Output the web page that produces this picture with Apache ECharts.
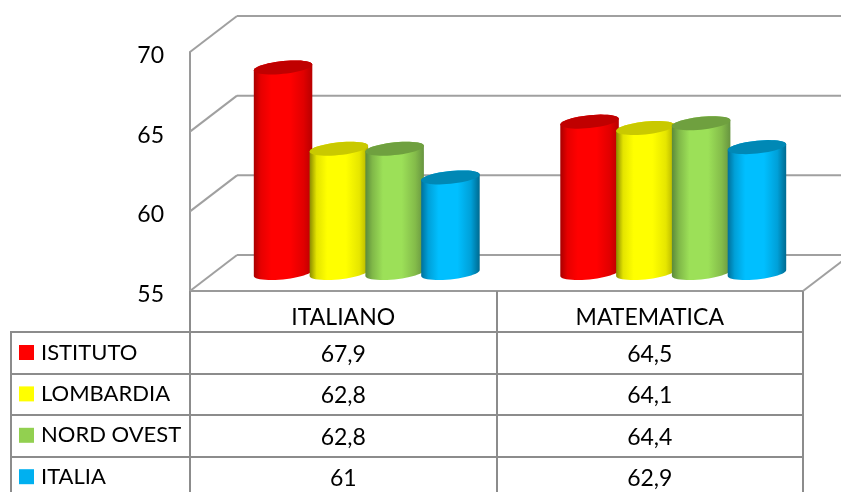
<!DOCTYPE html>
<html><head><meta charset="utf-8">
<style>html,body{margin:0;padding:0;background:#fff}#c{width:841px;height:492px}</style>
<script src="https://cdn.jsdelivr.net/npm/echarts@6/dist/echarts.min.js"></script>
</head><body><div id="c"></div>
<script>
const categories = ['ITALIANO', 'MATEMATICA'];
const yTicks = [55, 60, 65, 70];
const istituto = [67.9, 64.5];
const lombardia = [62.8, 64.1];
const nordOvest = [62.8, 64.4];
const italia = [61, 62.9];
const seriesNames = ['ISTITUTO', 'LOMBARDIA', 'NORD OVEST', 'ITALIA'];
const seriesValues = [istituto, lombardia, nordOvest, italia];

const FONT = 'Lato';
const palette = [
  {key:'#ff0000', cap:'#c00000', side:['#a80000','#e60000','#ff0000','#ff0000','#e00000','#b80000']},
  {key:'#ffff00', cap:'#c9c900', side:['#8a8a00','#e4e400','#ffff00','#ffff00','#e6e600','#b0b000']},
  {key:'#92d050', cap:'#6fa03f', side:['#5c8a3a','#80b848','#9ce058','#9ce058','#84bc4a','#679440']},
  {key:'#00b0f0', cap:'#0088b5', side:['#00709a','#00a0d8','#00bfff','#00bfff','#00a0d8','#006a90']}
];
const D = {x: 47, y: 36};        // depth of the 3D box
const BAR = {w: 58.5, step: 55.8, tilt: 2.9, b: 6.4};
const rowY = [332, 374, 415, 457];
const rowText = [354.5, 396, 437.5, 479];

const chart = echarts.init(document.getElementById('c'), null, {renderer:'canvas'});

function arc(cx, cy, from, to, n) {
  const a = BAR.w / 2, pts = [];
  for (let i = 0; i <= n; i++) {
    const t = from + (to - from) * i / n;
    pts.push([cx + a * Math.cos(t), cy - BAR.tilt * Math.cos(t) + BAR.b * Math.sin(t)]);
  }
  return pts;
}
function barRender(si) {
  return function (params, api) {
    const cat = api.value(0), val = api.value(1);
    const top = api.coord([cat, val]), base = api.coord([cat, 55]);
    const cx = top[0] + D.x / 2 + (si - 1.5) * BAR.step;
    const ty = top[1] - D.y / 2, by = base[1] - D.y / 2;
    const body = arc(cx, ty, Math.PI, 2 * Math.PI, 24).concat(arc(cx, by, 0, Math.PI, 24));
    const s = palette[si].side;
    const grad = new echarts.graphic.LinearGradient(0, 0, 1, 0, [
      {offset:0,color:s[0]},{offset:0.12,color:s[1]},{offset:0.3,color:s[2]},
      {offset:0.62,color:s[3]},{offset:0.85,color:s[4]},{offset:1,color:s[5]}]);
    return {type:'group', children:[
      {type:'polygon', shape:{points:body}, style:{fill:grad}},
      {type:'polygon', shape:{points:arc(cx, ty, 0, 2 * Math.PI, 48)}, style:{fill:palette[si].cap}},
      {type:'text', style:{text:String(val).replace('.', ','), x:top[0], y:rowText[si],
        align:'center', verticalAlign:'middle', fontFamily:FONT, fontSize:23, fill:'#000'}}
    ]};
  };
}
function wallRender(params, api) {
  const v = api.value(0);
  const p = api.coord([0, v]);
  const left = params.coordSys.x, right = left + params.coordSys.width;
  const ls = {stroke:'#a0a0a0', lineWidth:2, fill:null};
  const kids = [
    {type:'line', shape:{x1:left, y1:p[1], x2:left + D.x, y2:p[1] - D.y}, style:ls},
    {type:'line', shape:{x1:left + D.x, y1:p[1] - D.y, x2:right + D.x, y2:p[1] - D.y}, style:ls}
  ];
  if (v === 55) kids.push({type:'line', shape:{x1:right, y1:p[1], x2:right + D.x, y2:p[1] - D.y}, style:ls});
  return {type:'group', children:kids};
}

const series = [{type:'custom', name:'wall', data:yTicks.map(v => [v]), encode:{y:0}, renderItem:wallRender, silent:true, z:1}];
seriesNames.forEach((n, si) => series.push({
  type:'custom', name:n, z:2 + si,
  itemStyle:{color:palette[si].key},
  data:seriesValues[si].map((v, c) => [c, v]), encode:{x:0, y:1},
  renderItem:barRender(si)
}));

const tableLines = rowY.map(y => ({type:'line', shape:{x1:10, y1:y, x2:803, y2:y}, style:{stroke:'#8c8c8c', lineWidth:2}}));
tableLines.push({type:'line', shape:{x1:11, y1:332, x2:11, y2:492}, style:{stroke:'#8c8c8c', lineWidth:2}});

chart.setOption({
  animation:false, backgroundColor:'#fff',
  grid:{left:190, top:52, width:613, height:239, containLabel:false},
  xAxis:{type:'category', data:categories, boundaryGap:true,
    axisLine:{show:true, lineStyle:{color:'#9a9a9a', width:2}},
    axisTick:{show:true, length:201, lineStyle:{color:'#8c8c8c', width:2}},
    axisLabel:{margin:15, fontFamily:FONT, fontSize:23, color:'#000'}},
  yAxis:{type:'value', min:55, max:70, interval:5,
    axisLine:{show:true, onZero:false, lineStyle:{color:'#9a9a9a', width:2}},
    axisTick:{show:false}, splitLine:{show:false},
    axisLabel:{margin:26, fontFamily:FONT, fontSize:23, color:'#000', verticalAlign:'top', lineHeight:7}},
  legend:{data:seriesNames, orient:'vertical', left:19, top:341.5, height:150, padding:0, icon:'rect',
    itemWidth:15, itemHeight:15, itemGap:19.4, selectedMode:false,
    textStyle:{fontFamily:FONT, fontSize:22, color:'#000', padding:[0,0,0,2]}},
  graphic:tableLines,
  series
});
</script></body></html>
